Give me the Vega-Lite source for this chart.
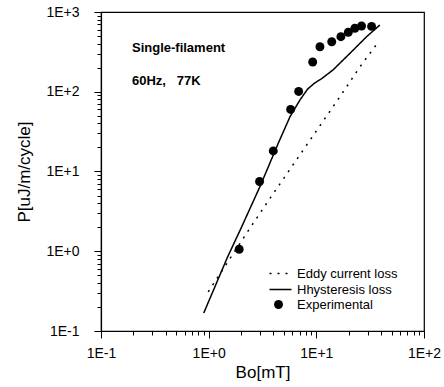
{
  "$schema": "https://vega.github.io/schema/vega-lite/v6.json",
  "width": 323,
  "height": 319,
  "autosize": {"type": "none"},
  "padding": {"left": 101, "top": 12, "right": 20, "bottom": 56},
  "background": "white",
  "config": {
    "view": {"stroke": "black", "strokeWidth": 1.2},
    "font": "Liberation Sans",
    "axis": {
      "domainColor": "black",
      "domainWidth": 1.2,
      "tickColor": "black",
      "labelColor": "black",
      "titleColor": "black",
      "labelFont": "Liberation Sans",
      "titleFont": "Liberation Sans",
      "labelFontSize": 14,
      "titleFontSize": 17,
      "titleFontWeight": "normal",
      "grid": false
    },
    "legend": {
      "labelFont": "Liberation Sans",
      "labelFontSize": 13,
      "labelColor": "black",
      "padding": 0
    }
  },
  "datasets": {
    "curves": [
      {"series": "Eddy current loss", "B": 0.99, "P": 0.31},
      {"series": "Eddy current loss", "B": 2.42, "P": 1.95},
      {"series": "Eddy current loss", "B": 3.71, "P": 4.6},
      {"series": "Eddy current loss", "B": 8.13, "P": 21.5},
      {"series": "Eddy current loss", "B": 16.6, "P": 87},
      {"series": "Eddy current loss", "B": 25.4, "P": 205},
      {"series": "Eddy current loss", "B": 37.6, "P": 420},
      {"series": "Hhysteresis loss", "B": 0.9, "P": 0.168},
      {"series": "Hhysteresis loss", "B": 1.5, "P": 0.85},
      {"series": "Hhysteresis loss", "B": 2.0, "P": 1.95},
      {"series": "Hhysteresis loss", "B": 3.0, "P": 6.5},
      {"series": "Hhysteresis loss", "B": 4.43, "P": 22.6},
      {"series": "Hhysteresis loss", "B": 5.7, "P": 48.8},
      {"series": "Hhysteresis loss", "B": 7.05, "P": 79},
      {"series": "Hhysteresis loss", "B": 8.3, "P": 108},
      {"series": "Hhysteresis loss", "B": 9.6, "P": 128},
      {"series": "Hhysteresis loss", "B": 11.2, "P": 146},
      {"series": "Hhysteresis loss", "B": 14.3, "P": 188},
      {"series": "Hhysteresis loss", "B": 20.5, "P": 303},
      {"series": "Hhysteresis loss", "B": 29.3, "P": 490},
      {"series": "Hhysteresis loss", "B": 38.9, "P": 687}
    ],
    "exp": [
      {"kind": "Experimental", "B": 1.92, "P": 1.06},
      {"kind": "Experimental", "B": 2.97, "P": 7.5},
      {"kind": "Experimental", "B": 3.98, "P": 18.1},
      {"kind": "Experimental", "B": 5.77, "P": 60},
      {"kind": "Experimental", "B": 6.85, "P": 101},
      {"kind": "Experimental", "B": 9.25, "P": 236},
      {"kind": "Experimental", "B": 10.8, "P": 367},
      {"kind": "Experimental", "B": 13.9, "P": 424},
      {"kind": "Experimental", "B": 16.9, "P": 490},
      {"kind": "Experimental", "B": 19.8, "P": 557},
      {"kind": "Experimental", "B": 22.8, "P": 625},
      {"kind": "Experimental", "B": 26.3, "P": 668},
      {"kind": "Experimental", "B": 32.6, "P": 660}
    ],
    "notes": [
      {"label": "Single-filament", "B": 0.194, "P": 354},
      {"label": "60Hz,\u00a0\u00a0\u00a077K", "B": 0.194, "P": 136}
    ]
  },
  "encoding": {
    "x": {
      "field": "B",
      "type": "quantitative",
      "scale": {"type": "log", "domain": [0.1, 100], "nice": false},
      "axis": {
        "title": "Bo[mT]",
        "values": [0.1,0.2,0.3,0.4,0.5,0.6,0.7,0.8,0.9,1,2,3,4,5,6,7,8,9,10,20,30,40,50,60,70,80,90,100],
        "labelExpr": "abs(log(datum.value)/LN10 - round(log(datum.value)/LN10)) < 0.001 ? '1E' + (round(log(datum.value)/LN10) >= 0 ? '+' : '') + round(log(datum.value)/LN10) : ''",
        "tickSize": {"condition": {"test": "abs(log(datum.value)/LN10 - round(log(datum.value)/LN10)) < 0.001", "value": 7}, "value": 4},
        "labelPadding": 8,
        "titlePadding": 4,
        "labelFlush": false,
        "labelOverlap": false
      }
    },
    "y": {
      "field": "P",
      "type": "quantitative",
      "scale": {"type": "log", "domain": [0.1, 1000], "nice": false},
      "axis": {
        "title": "P[uJ/m/cycle]",
        "values": [0.1,0.2,0.3,0.4,0.5,0.6,0.7,0.8,0.9,1,2,3,4,5,6,7,8,9,10,20,30,40,50,60,70,80,90,100,200,300,400,500,600,700,800,900,1000],
        "labelExpr": "abs(log(datum.value)/LN10 - round(log(datum.value)/LN10)) < 0.001 ? '1E' + (round(log(datum.value)/LN10) >= 0 ? '+' : '') + round(log(datum.value)/LN10) : ''",
        "tickSize": {"condition": {"test": "abs(log(datum.value)/LN10 - round(log(datum.value)/LN10)) < 0.001", "value": 7}, "value": 4},
        "labelPadding": 15,
        "titlePadding": 12,
        "labelFlush": false,
        "labelOverlap": false
      }
    }
  },
  "layer": [
    {
      "data": {"name": "curves"},
      "mark": {"type": "line", "color": "black", "strokeWidth": 1.5},
      "encoding": {
        "strokeDash": {
          "field": "series",
          "type": "nominal",
          "scale": {"domain": ["Eddy current loss", "Hhysteresis loss"], "range": [[2, 6], [1, 0]]},
          "legend": {
            "title": null,
            "orient": "none",
            "legendX": 173,
            "legendY": 255,
            "symbolType": "M-2,0H2",
            "symbolSize": 121,
            "symbolStrokeColor": "black",
            "symbolFillColor": "transparent",
            "symbolStrokeWidth": 1.5,
            "labelOffset": 10,
            "rowPadding": 2
          }
        }
      }
    },
    {
      "data": {"name": "exp"},
      "mark": {"type": "point", "filled": true, "color": "black", "size": 80, "opacity": 1},
      "encoding": {
        "shape": {
          "field": "kind",
          "type": "nominal",
          "scale": {"domain": ["Experimental"], "range": ["circle"]},
          "legend": {
            "title": null,
            "orient": "none",
            "legendX": 171,
            "legendY": 286,
            "symbolSize": 80,
            "symbolFillColor": "black",
            "symbolStrokeColor": "black",
            "symbolOpacity": 1,
            "labelOffset": 12
          }
        }
      }
    },
    {
      "data": {"name": "notes"},
      "mark": {"type": "text", "align": "left", "baseline": "middle", "fontWeight": "bold", "fontSize": 13, "color": "black", "font": "Liberation Sans"},
      "encoding": {"text": {"field": "label"}}
    }
  ]
}
